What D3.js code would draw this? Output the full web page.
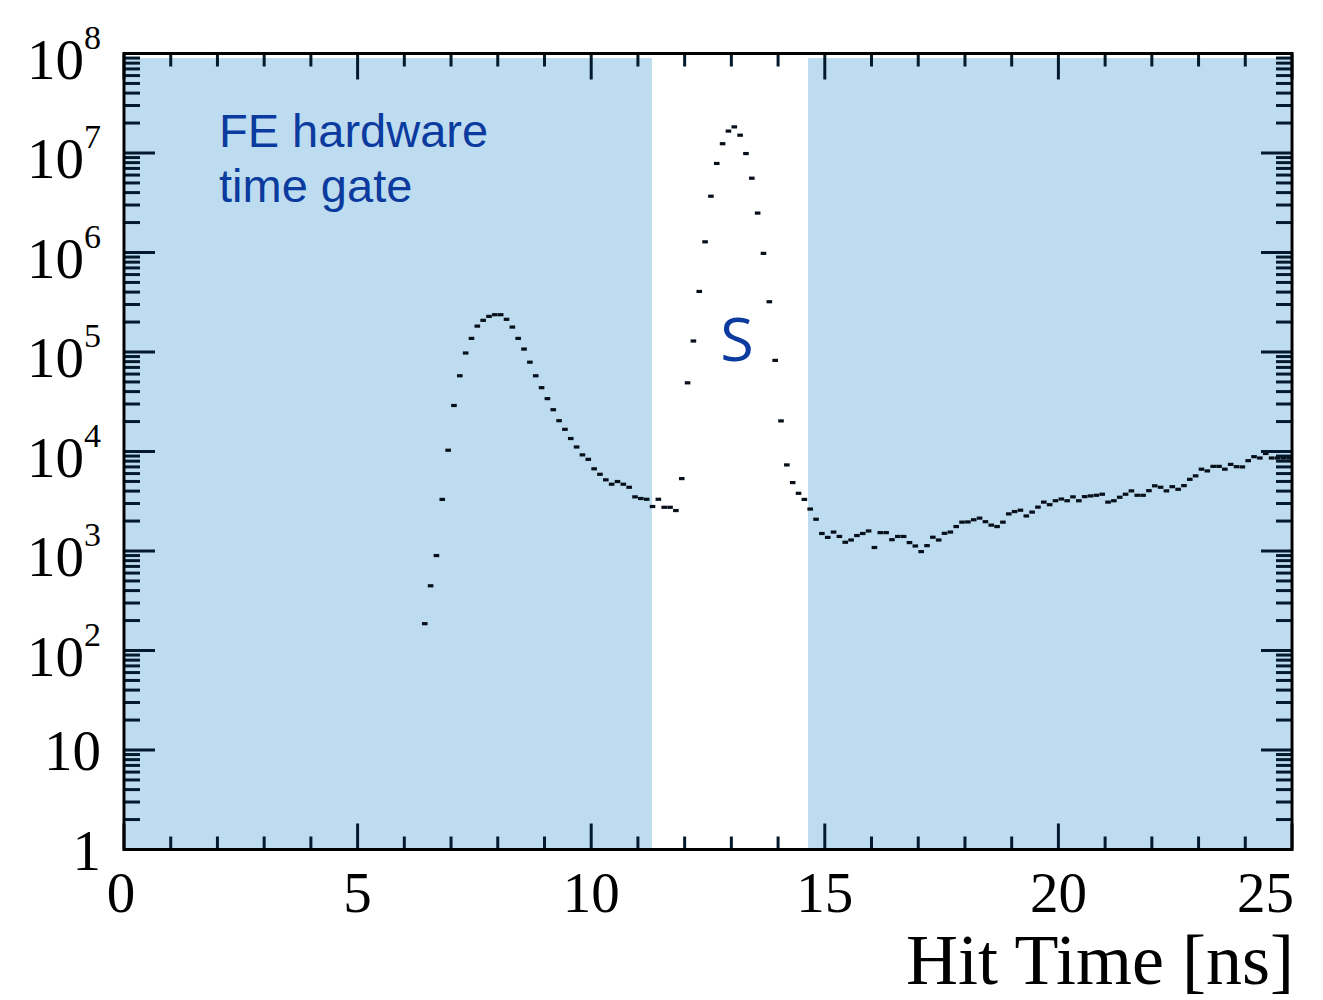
<!DOCTYPE html>
<html>
<head>
<meta charset="utf-8">
<script src="https://cdn.jsdelivr.net/npm/d3@7"></script>
<style>
  body { margin: 0; background: #fff; }
  svg { display: block; }
</style>
</head>
<body>
<script>
// histogram: bin width 0.125 ns, first filled bin centre at 6.4375 ns
const binWidth = 0.125
const firstBin = 6.4375
const counts = [
  186, 447, 900, 3300, 10300, 29000, 57700, 97700, 137000, 182000,
  208000, 228000, 237000, 237000, 213000, 178000, 137000, 107000, 79000, 57700,
  43800, 34000, 26300, 20400, 16700, 13500, 11100, 9250, 8340, 6700,
  5900, 5190, 4690, 4990, 4690, 4370, 3500, 3370, 3310, 2800,
  3310, 2750, 2750, 2550, 5340, 49000, 129000, 406000, 1.28e6, 3.68e6,
  7.85e6, 1.24e7, 1.66e7, 1.83e7, 1.51e7, 9.87e6, 5.58e6, 2.49e6, 9.8e5, 3.2e5,
  82400, 20300, 7330, 4870, 3800, 3300, 2640, 2085, 1500, 1370,
  1550, 1400, 1225, 1290, 1430, 1500, 1590, 1084, 1530, 1530,
  1300, 1400, 1400, 1215, 1123, 986, 1132, 1375, 1290, 1505,
  1550, 1760, 1950, 1960, 2060, 2140, 1970, 1820, 1760, 1950,
  2360, 2490, 2570, 2250, 2460, 2760, 3100, 2920, 3200, 3330,
  3200, 3500, 3200, 3520, 3580, 3630, 3720, 3100, 3200, 3470,
  3720, 4020, 3630, 3630, 4040, 4520, 4370, 4020, 4430, 4170,
  4540, 5250, 5690, 6640, 6380, 7090, 7090, 6640, 7420, 7040,
  7000, 8090, 8870, 8600, 9560, 8600, 8600, 8600, 8600
]

// shaded regions = outside the FE hardware time gate
const gateRegions = [[0, 11.3], [14.64, 25]]

const xTicksMajor = [0, 5, 10, 15, 20, 25]
const yExponents = [0, 1, 2, 3, 4, 5, 6, 7, 8]

const w = 1323
const h = 1000
const padL = 124, padR = 1292, padT = 53.5, padB = 849.5

const svg = d3.select("body").append("svg")
  .attr("width", w)
  .attr("height", h)

const x = d3.scaleLinear().domain([0, 25]).range([padL, padR])
const y = d3.scaleLog().domain([1, 1e8]).range([padB, padT])

// shaded areas
svg.selectAll("rect.shade")
  .data(gateRegions)
  .enter()
  .append("rect")
  .attr("class", "shade")
  .attr("x", d => Math.max(x(d[0]), padL + 1.5))
  .attr("width", d => Math.min(x(d[1]), padR - 1.5) - Math.max(x(d[0]), padL + 1.5))
  .attr("y", 58)
  .attr("height", padB - 58)
  .attr("fill", "#bedcef")

// data markers
const data = counts.map((c, i) => ({ t: firstBin + i * binWidth, v: c }))
svg.selectAll("rect.pt")
  .data(data)
  .enter()
  .append("rect")
  .attr("class", "pt")
  .attr("x", d => x(d.t) - 2.8)
  .attr("y", d => y(d.v) - 1.6)
  .attr("width", 5.6)
  .attr("height", 3.2)
  .attr("fill", "#07101a")

// ticks, ROOT style on all four sides
const tickColor = "#04192c"
const xMinor = d3.range(0, 26, 1)
const tickG = svg.append("g").attr("stroke", tickColor).attr("stroke-width", 3)
xMinor.forEach(t => {
  const len = xTicksMajor.includes(t) ? 26 : 13
  tickG.append("line").attr("x1", x(t)).attr("x2", x(t)).attr("y1", padB).attr("y2", padB - len)
  tickG.append("line").attr("x1", x(t)).attr("x2", x(t)).attr("y1", padT).attr("y2", padT + len)
})
yExponents.forEach(e => {
  const base = Math.pow(10, e)
  tickG.append("line").attr("x1", padL).attr("x2", padL + 31).attr("y1", y(base)).attr("y2", y(base))
  tickG.append("line").attr("x1", padR).attr("x2", padR - 31).attr("y1", y(base)).attr("y2", y(base))
  if (e < 8) {
    for (let k = 2; k <= 9; k++) {
      const yy = y(k * base)
      tickG.append("line").attr("x1", padL).attr("x2", padL + 16).attr("y1", yy).attr("y2", yy)
      tickG.append("line").attr("x1", padR).attr("x2", padR - 16).attr("y1", yy).attr("y2", yy)
    }
  }
})

// frame
svg.append("rect")
  .attr("x", padL).attr("y", padT)
  .attr("width", padR - padL).attr("height", padB - padT)
  .attr("fill", "none").attr("stroke", "#000").attr("stroke-width", 3)

// x labels
svg.selectAll("text.xl")
  .data(xTicksMajor)
  .enter()
  .append("text")
  .attr("class", "xl")
  .attr("x", d => d === 25 ? padR + 2 : (d === 0 ? x(d) - 3 : x(d)))
  .attr("y", 912)
  .attr("text-anchor", d => d === 25 ? "end" : "middle")
  .attr("font-family", "Liberation Serif, Times New Roman, serif")
  .attr("font-size", 57)
  .text(d => d)

// y labels
const yl = svg.selectAll("text.yl")
  .data(yExponents)
  .enter()
  .append("text")
  .attr("class", "yl")
  .attr("x", 101)
  .attr("y", d => y(Math.pow(10, d)) + (d >= 2 ? 25 : 20))
  .attr("text-anchor", "end")
  .attr("font-family", "Liberation Serif, Times New Roman, serif")
  .attr("font-size", 57)
yl.each(function (d) {
  const t = d3.select(this)
  if (d === 0) t.text("1")
  else if (d === 1) t.text("10")
  else {
    t.append("tspan").text("10")
    t.append("tspan").attr("dy", -30).attr("font-size", 34).text(d)
  }
})

// axis title
svg.append("text")
  .attr("x", padR + 2)
  .attr("y", 984)
  .attr("text-anchor", "end")
  .attr("font-family", "Liberation Serif, Times New Roman, serif")
  .attr("font-size", 72)
  .text("Hit Time [ns]")

// annotations
const note = svg.append("text")
  .attr("font-family", "Liberation Sans, Arial, sans-serif")
  .attr("font-size", 47)
  .attr("fill", "#0b3b9e")
note.append("tspan").attr("x", 219).attr("y", 147).text("FE hardware")
note.append("tspan").attr("x", 219).attr("y", 202).text("time gate")

svg.append("text")
  .attr("x", 737)
  .attr("y", 361)
  .attr("text-anchor", "middle")
  .attr("font-family", "Open Sans, sans-serif")
  .attr("font-size", 61)
  .attr("fill", "#0b3b9e")
  .text("S")
</script>
</body>
</html>
